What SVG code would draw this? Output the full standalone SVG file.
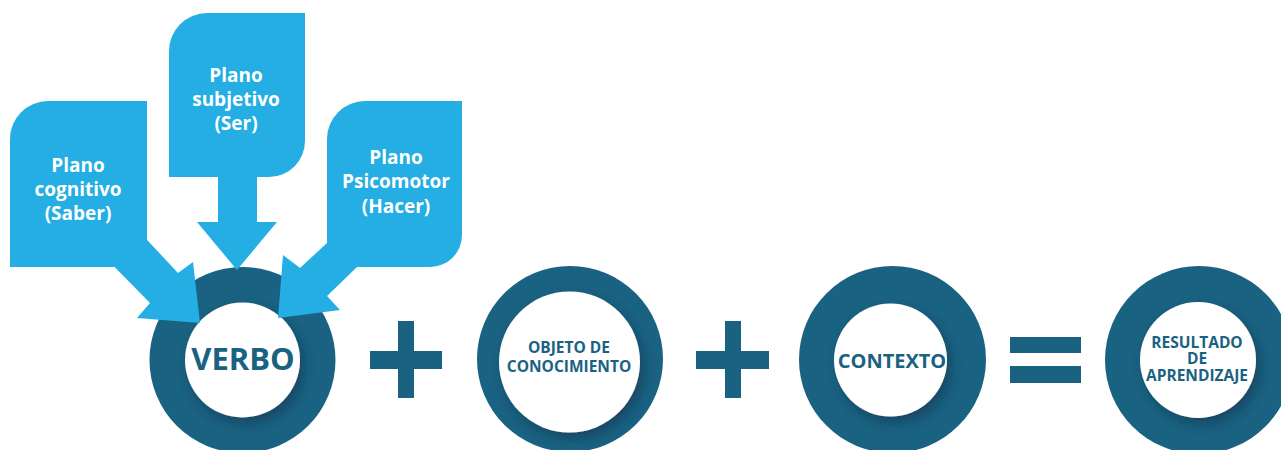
<svg xmlns="http://www.w3.org/2000/svg" width="1281" height="450" viewBox="0 0 1281 450">
<defs>
<filter id="sh" x="-30%" y="-30%" width="160%" height="160%">
<feDropShadow dx="4" dy="6" stdDeviation="6" flood-color="#0b3348" flood-opacity="0.55"/>
</filter>
<style>
.blue{fill:#24aee4}
.ring{fill:#1a6282}
.inner{fill:#ffffff;filter:url(#sh)}
.op{fill:#1a6282}
.ct{font-family:"Open Sans","Noto Sans","Liberation Sans",sans-serif;font-weight:bold;fill:#ffffff;font-size:19px;text-anchor:middle}
.nt{font-family:"Open Sans","Noto Sans","Liberation Sans",sans-serif;font-weight:bold;fill:#1a6282;text-anchor:middle}
</style>
</defs>
<rect width="1281" height="450" fill="#ffffff"/>

<g id="callout-cognitivo">
<path class="blue" d="M10,139 A38,38 0 0 1 48,101 L147,101 L147,267 L10,267 Z"/>
<text class="ct" x="78" y="172">Plano</text>
<text class="ct" x="78" y="196">cognitivo</text>
<text class="ct" x="78" y="220">(Saber)</text>
</g>

<g id="callout-subjetivo">
<path class="blue" d="M169,51 A38,38 0 0 1 207,13 L305,13 L305,141 A36,36 0 0 1 269,177 L169,177 Z"/>
<text class="ct" x="236" y="82">Plano</text>
<text class="ct" x="236" y="106">subjetivo</text>
<text class="ct" x="236" y="130">(Ser)</text>
</g>

<g id="callout-psicomotor">
<path class="blue" d="M327,139 A38,38 0 0 1 365,101 L462,101 L462,235 A32,32 0 0 1 430,267 L327,267 Z"/>
<text class="ct" x="396" y="164">Plano</text>
<text class="ct" x="396" y="188">Psicomotor</text>
<text class="ct" x="396" y="213">(Hacer)</text>
</g>

<g id="node-verbo">
<circle class="ring" cx="242.5" cy="360" r="93"/>
<circle class="inner" cx="242.5" cy="360" r="57.5"/>
<text class="nt" x="243" y="370" font-size="31">VERBO</text>
</g>

<g id="plus-1">
<rect class="op" x="398" y="321" width="16" height="77"/>
<rect class="op" x="370" y="351" width="72" height="18"/>
</g>

<g id="node-objeto">
<circle class="ring" cx="570" cy="359" r="93"/>
<circle class="inner" cx="569.5" cy="362" r="70.5"/>
<text class="nt" x="569" y="353" font-size="15.5">OBJETO DE</text>
<text class="nt" x="569" y="372" font-size="15.5">CONOCIMIENTO</text>
</g>

<g id="plus-2">
<rect class="op" x="725" y="321" width="16" height="77"/>
<rect class="op" x="696" y="351" width="73" height="18"/>
</g>

<g id="node-contexto">
<circle class="ring" cx="892.5" cy="359.5" r="93.5"/>
<circle class="inner" cx="890.5" cy="360" r="56.5"/>
<text class="nt" x="892" y="368" font-size="20">CONTEXTO</text>
</g>

<g id="equals">
<rect class="op" x="1010" y="337" width="71" height="16"/>
<rect class="op" x="1010" y="366" width="71" height="17"/>
</g>

<g id="node-resultado">
<circle class="ring" cx="1199" cy="360" r="94"/>
<circle class="inner" cx="1198" cy="360" r="58"/>
<text class="nt" x="1197" y="348" font-size="15.5">RESULTADO</text>
<text class="nt" x="1197" y="364" font-size="15.5">DE</text>
<text class="nt" x="1197" y="381" font-size="15.5">APRENDIZAJE</text>
</g>

<g id="connectors">
<polygon class="blue" points="120,211 178,273 193,262 200,323 137,318 150,303 90,242"/>
<polygon class="blue" points="218,150 257,150 257,222 277,222 237,270 197,222 218,222"/>
<polygon class="blue" points="354,218 300,268 283,255 278,318 340,310 327,296 385,240"/>
</g>
</svg>
